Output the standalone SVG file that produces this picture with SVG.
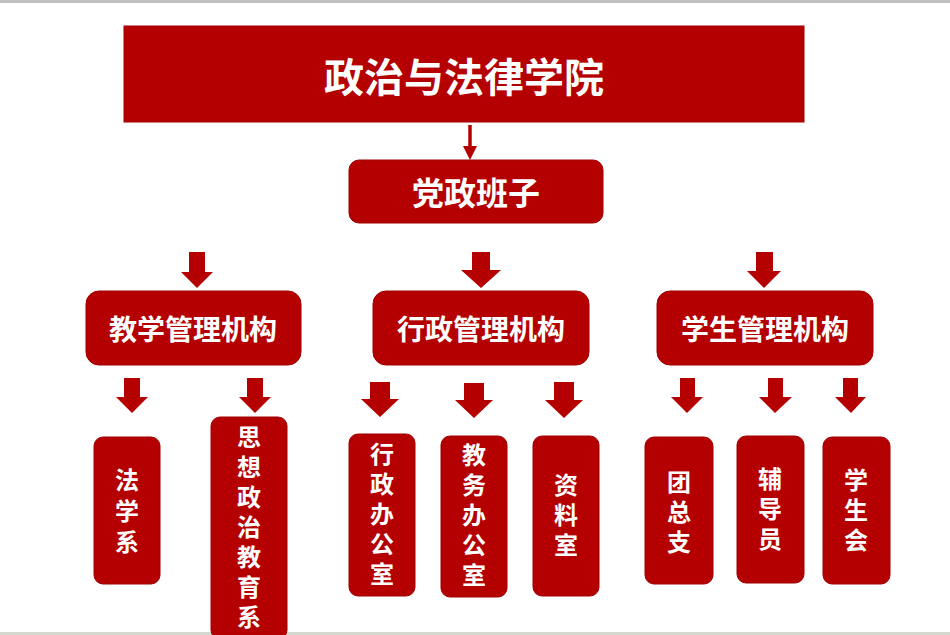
<svg xmlns="http://www.w3.org/2000/svg" width="950" height="635" viewBox="0 0 950 635">
<style>
.box{fill:#b40000;stroke:#a00000;stroke-width:1}
.t{fill:#ffffff;font-family:"Noto Sans CJK SC","Noto Sans CJK JP",sans-serif;font-weight:bold;text-anchor:middle;dominant-baseline:central}
.v{fill:#ffffff;font-family:"Noto Sans CJK SC","Noto Sans CJK JP",sans-serif;font-weight:bold;font-size:24px;text-anchor:middle;writing-mode:vertical-rl;text-orientation:upright;letter-spacing:6px}
.arr{fill:#b40000}
</style>
<defs>
<marker id="ah" markerWidth="4" markerHeight="4" refX="2" refY="2" orient="auto" markerUnits="strokeWidth">
<path d="M0,0 L4,2 L0,4 Z" fill="#b40000"/>
</marker>
</defs>
<rect x="0" y="0" width="950" height="635" fill="#ffffff"/>
<rect x="0" y="0" width="950" height="3" fill="#c0c0c0"/>
<rect x="0" y="632" width="950" height="3" fill="#d4d8cc"/>

<g id="connectors">
<line x1="470" y1="125" x2="470" y2="153" stroke="#b40000" stroke-width="3.5" marker-end="url(#ah)"/>
<polygon class="arr" points="189,252 205,252 205,272 213,272 197,288 181,272 189,272"/>
<polygon class="arr" points="472,252 490,252 490,270 501,270 481,288 461,270 472,270"/>
<polygon class="arr" points="756,252 773,252 773,271 781,271 764,288 747,271 756,271"/>
<polygon class="arr" points="124,378 140,378 140,397 148,397 132,413 116,397 124,397"/>
<polygon class="arr" points="247,378 263,378 263,397 271,397 255,413 239,397 247,397"/>
<polygon class="arr" points="370,382 390,382 390,399 399,399 380,417 361,399 370,399"/>
<polygon class="arr" points="464,383 484,383 484,400 493,400 474,418 455,400 464,400"/>
<polygon class="arr" points="554,382 574,382 574,400 583,400 564,418 545,400 554,400"/>
<polygon class="arr" points="680,378 695,378 695,397 703,397 687,413 671,397 680,397"/>
<polygon class="arr" points="768,378 783,378 783,397 792,397 775,413 759,397 768,397"/>
<polygon class="arr" points="843,378 858,378 858,397 866,397 851,413 835,397 843,397"/>
</g>

<g id="college">
<rect class="box" x="124" y="26" width="680" height="96"/>
<text class="t" x="464" y="75" font-size="40">政治与法律学院</text>
</g>
<g id="leadership">
<rect class="box" x="349" y="160" width="254" height="63" rx="10"/>
<text class="t" x="476" y="191" font-size="32">党政班子</text>
</g>
<g id="teaching">
<rect class="box" x="86" y="291" width="215" height="74" rx="13"/>
<text class="t" x="193" y="328" font-size="28">教学管理机构</text>
</g>
<g id="admin">
<rect class="box" x="373" y="291" width="216" height="74" rx="13"/>
<text class="t" x="481" y="328" font-size="28">行政管理机构</text>
</g>
<g id="student">
<rect class="box" x="657" y="291" width="216" height="74" rx="13"/>
<text class="t" x="765" y="328" font-size="28">学生管理机构</text>
</g>

<g id="law">
<rect class="box" x="94" y="437" width="66" height="147" rx="9"/>
<text class="v" x="127" y="514" style="letter-spacing:7px">法学系</text>
</g>
<g id="ideology">
<rect class="box" x="211" y="417" width="76" height="222" rx="9"/>
<text class="v" x="249" y="530">思想政治教育系</text>
</g>
<g id="admin-office">
<rect class="box" x="349" y="434" width="66" height="162" rx="9"/>
<text class="v" x="382" y="517">行政办公室</text>
</g>
<g id="academic-office">
<rect class="box" x="441" y="436" width="66" height="161" rx="9"/>
<text class="v" x="474" y="518">教务办公室</text>
</g>
<g id="archive">
<rect class="box" x="533" y="436" width="66" height="160" rx="9"/>
<text class="v" x="566" y="518">资料室</text>
</g>
<g id="league">
<rect class="box" x="645" y="437" width="68" height="147" rx="9"/>
<text class="v" x="679" y="515">团总支</text>
</g>
<g id="counselor">
<rect class="box" x="737" y="436" width="67" height="147" rx="9"/>
<text class="v" x="770" y="512">辅导员</text>
</g>
<g id="union">
<rect class="box" x="823" y="437" width="67" height="147" rx="9"/>
<text class="v" x="856" y="513">学生会</text>
</g>
</svg>
